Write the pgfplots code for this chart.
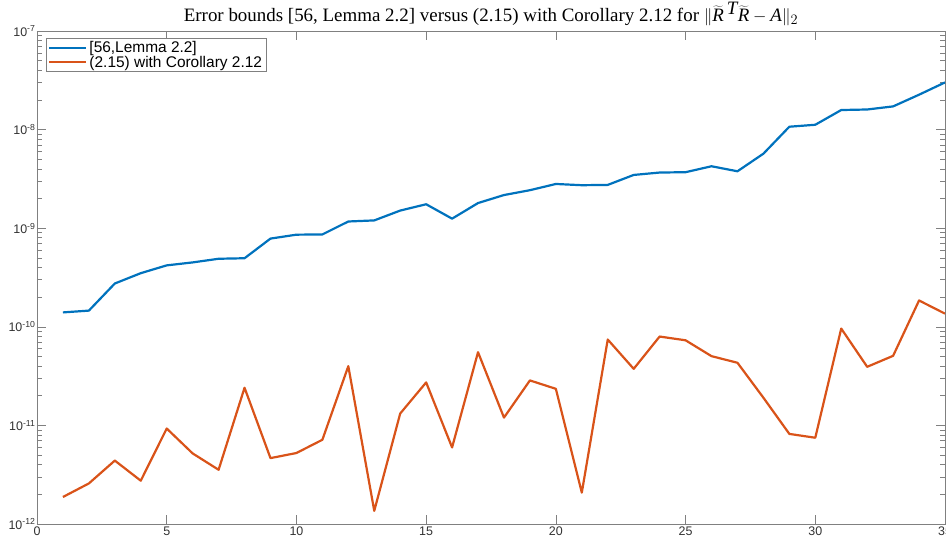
\documentclass[border=0pt]{standalone}
\usepackage{pgfplots}
\pgfplotsset{compat=1.18}
\usepackage{fontspec}
\setmainfont{Liberation Serif}
\newfontfamily\helv{Liberation Sans}
\definecolor{mblue}{RGB}{0,114,189}
\definecolor{morange}{RGB}{217,83,25}
\definecolor{axgray}{RGB}{128,128,128}
\definecolor{lblgray}{RGB}{50,50,50}
\begin{document}
\begin{tikzpicture}
\begin{axis}[
  scale only axis, width=908bp, height=493bp,
  ymode=log, log basis y=10,
  xmin=0, xmax=35, ymin=1e-12, ymax=1e-7,
  xtick={0,5,...,35},
  /pgf/number format/assume math mode=true,
  yticklabel={\pgfmathparse{int(round(\tick))}10\textsuperscript{\pgfmathresult}},
  tick align=inside, major tick length=9bp, minor tick length=5bp,
  axis line style={axgray, line width=0.6bp},
  every tick/.style={axgray, line width=0.6bp},
  ticklabel style={font=\helv\fontsize{12.5}{14}\selectfont, text=lblgray},
  xticklabel style={yshift=1bp},
  yticklabel style={xshift=2bp},
  title={Error bounds [56, Lemma 2.2] versus (2.15) with Corollary 2.12 for $\|\widetilde{\textit{R}}\mkern3mu\smash{{}^{\textit{T}}}\widetilde{\textit{R}}-\textit{A}\|_2$},
  title style={font=\fontsize{19}{20}\selectfont, at={(0.5,1)}, anchor=south, yshift=-4bp},
  legend style={at={(0,1)}, anchor=north west, xshift=9bp, yshift=-7bp,
    font=\helv\fontsize{15.5}{17}\selectfont, draw=axgray, line width=0.6bp,
    inner xsep=2bp, inner ysep=1bp, row sep=-2bp},
  legend cell align=left,
  legend image code/.code={\draw[#1] (0bp,0bp) -- (37bp,0bp);},
  every axis plot/.append style={line width=2.2bp, line join=round},
]
\addplot[mblue] coordinates {
(1,1.40e-10) (2,1.46e-10) (3,2.75e-10) (4,3.5e-10) (5,4.2e-10)
(6,4.5e-10) (7,4.9e-10) (8,4.96e-10) (9,7.85e-10) (10,8.6e-10)
(11,8.65e-10) (12,1.17e-9) (13,1.2e-9) (14,1.51e-9) (15,1.75e-9)
(16,1.25e-9) (17,1.80e-9) (18,2.17e-9) (19,2.43e-9) (20,2.81e-9)
(21,2.73e-9) (22,2.75e-9) (23,3.47e-9) (24,3.67e-9) (25,3.7e-9)
(26,4.25e-9) (27,3.78e-9) (28,5.7e-9) (29,1.07e-8) (30,1.12e-8)
(31,1.58e-8) (32,1.6e-8) (33,1.72e-8) (34,2.26e-8) (35,3.01e-8)
};
\addlegendentry{[56,Lemma 2.2]}
\addplot[morange] coordinates {
(1,1.88e-12) (2,2.58e-12) (3,4.4e-12) (4,2.75e-12) (5,9.3e-12)
(6,5.2e-12) (7,3.55e-12) (8,2.41e-11) (9,4.66e-12) (10,5.25e-12)
(11,7.15e-12) (12,3.99e-11) (13,1.36e-12) (14,1.32e-11) (15,2.73e-11)
(16,5.98e-12) (17,5.53e-11) (18,1.2e-11) (19,2.86e-11) (20,2.35e-11)
(21,2.08e-12) (22,7.43e-11) (23,3.75e-11) (24,7.97e-11) (25,7.3e-11)
(26,5.04e-11) (27,4.32e-11) (28,1.91e-11) (29,8.2e-12) (30,7.5e-12)
(31,9.6e-11) (32,3.93e-11) (33,5.08e-11) (34,1.85e-10) (35,1.36e-10)
};
\addlegendentry{(2.15) with Corollary 2.12}
\end{axis}
\pgfresetboundingbox
\path[use as bounding box] ([xshift=-37bp,yshift=-20bp]current axis.south west) rectangle ([xshift=1bp,yshift=31bp]current axis.north east);
\end{tikzpicture}
\end{document}
